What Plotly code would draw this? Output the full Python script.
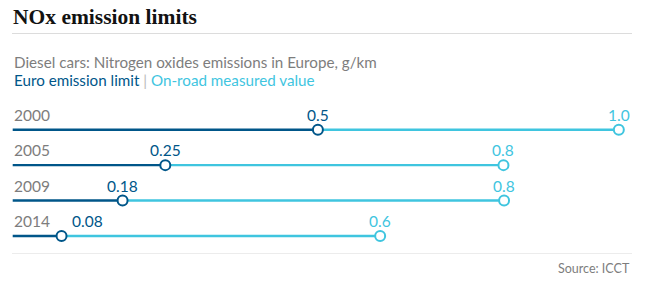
import plotly.graph_objects as go

years = ["2000", "2005", "2009", "2014"]
euro_limit = [0.5, 0.25, 0.18, 0.08]
euro_labels = ["0.5", "0.25", "0.18", "0.08"]
on_road = [0.993, 0.804, 0.805, 0.602]
on_road_labels = ["1.0", "0.8", "0.8", "0.6"]

DARK = "#005689"
LIGHT = "#3fc5df"
GRAY = "#7d7d7d"
W, H = 650, 286

fig = go.Figure()
rows = list(range(len(years)))

for i in rows:
    fig.add_trace(go.Scatter(x=[0, euro_limit[i]], y=[i, i], mode="lines",
                             line=dict(color=DARK, width=2.4), hoverinfo="skip"))
    fig.add_trace(go.Scatter(x=[euro_limit[i], on_road[i]], y=[i, i], mode="lines",
                             line=dict(color=LIGHT, width=2.4), hoverinfo="skip"))

fig.add_trace(go.Scatter(x=on_road, y=rows, mode="markers",
                         marker=dict(size=10, color="white", line=dict(color=LIGHT, width=2))))
fig.add_trace(go.Scatter(x=euro_limit, y=rows, mode="markers",
                         marker=dict(size=10, color="white", line=dict(color=DARK, width=2))))

font = "Lato, Noto Sans, sans-serif"
ann = []
for i in rows:
    near_start = euro_limit[i] < 0.12
    ann.append(dict(x=euro_limit[i], y=i, text=euro_labels[i], showarrow=False, yshift=15,
                    xshift=8 if near_start else 0,
                    font=dict(color=DARK, size=15.5, family=font),
                    xanchor="left" if near_start else "center", yanchor="middle"))
    ann.append(dict(x=on_road[i], y=i, text=on_road_labels[i], showarrow=False, yshift=15,
                    font=dict(color=LIGHT, size=15.5, family=font), xanchor="center", yanchor="middle"))
    ann.append(dict(x=12 / W, xref="paper", y=i, text=years[i], showarrow=False, yshift=15,
                    font=dict(color=GRAY, size=15.5, family=font), xanchor="left", yanchor="middle"))

ann.append(dict(x=11 / W, y=1 - 17 / H, xref="paper", yref="paper", text="<b>NOx emission limits</b>",
                showarrow=False, xanchor="left", yanchor="middle",
                font=dict(family="Liberation Serif, serif", size=21.5, color="#121212")))
ann.append(dict(x=12 / W, y=1 - 62 / H, xref="paper", yref="paper",
                text="Diesel cars: Nitrogen oxides emissions in Europe, g/km",
                showarrow=False, xanchor="left", yanchor="middle",
                font=dict(family=font, size=15.2, color=GRAY)))
ann.append(dict(x=12 / W, y=1 - 80 / H, xref="paper", yref="paper",
                text=f"<span style='color:{DARK}'>Euro emission limit</span> <span style='color:#bbbbbb'>|</span> <span style='color:{LIGHT}'>On-road measured value</span>",
                showarrow=False, xanchor="left", yanchor="middle",
                font=dict(family=font, size=15.2, color=DARK)))
ann.append(dict(x=632 / W, y=1 - 268 / H, xref="paper", yref="paper", text="Source: ICCT",
                showarrow=False, xanchor="right", yanchor="middle",
                font=dict(family=font, size=12.5, color=GRAY)))

shapes = [
    dict(type="line", xref="paper", yref="paper", x0=12 / W, x1=632 / W,
         y0=1 - 33.5 / H, y1=1 - 33.5 / H, line=dict(color="#dcdcdc", width=1)),
    dict(type="line", xref="paper", yref="paper", x0=12 / W, x1=632 / W,
         y0=1 - 253.5 / H, y1=1 - 253.5 / H, line=dict(color="#ececec", width=1)),
]

px0, ppu = 12.7, 610.4
y0px, pps = 129.7, 35.43
fig.update_layout(
    width=W, height=H, margin=dict(l=0, r=0, t=0, b=0),
    paper_bgcolor="white", plot_bgcolor="white", showlegend=False,
    xaxis=dict(range=[-px0 / ppu, (W - px0) / ppu], visible=False, fixedrange=True),
    yaxis=dict(range=[(H - y0px) / pps, -y0px / pps], visible=False, fixedrange=True),
    annotations=ann, shapes=shapes,
)
fig.write_html("out.html")
